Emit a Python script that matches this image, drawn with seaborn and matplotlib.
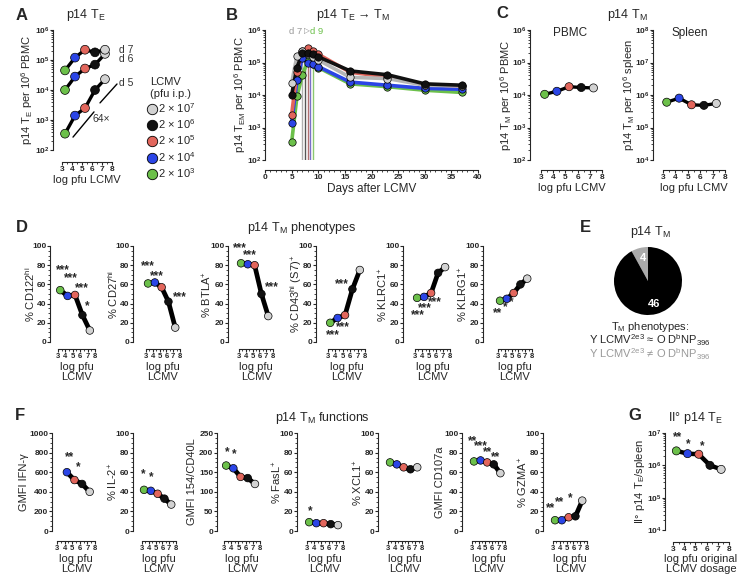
import numpy as np
import pandas as pd
import matplotlib
matplotlib.use('Agg')
import matplotlib.pyplot as plt
import seaborn as sns
from matplotlib.ticker import FixedLocator, MultipleLocator, FuncFormatter, LogLocator, NullFormatter
from matplotlib.lines import Line2D

sns.set_style('ticks')
plt.rcParams['font.family'] = ['Liberation Sans', 'DejaVu Sans']
plt.rcParams['mathtext.fontset'] = 'custom'
plt.rcParams['mathtext.rm'] = 'Liberation Sans'
plt.rcParams['mathtext.it'] = 'Liberation Sans:italic'
plt.rcParams['mathtext.bf'] = 'Liberation Sans:bold'
plt.rcParams['axes.linewidth'] = 0.8

# ---------------- data ----------------
doses = ['2e3', '2e4', '2e5', '2e6', '2e7']
dose_labels = ['2 × 10$^{3}$', '2 × 10$^{4}$', '2 × 10$^{5}$', '2 × 10$^{6}$', '2 × 10$^{7}$']
log_pfu = [3.3, 4.3, 5.3, 6.3, 7.3]
dose_colors = ['#6cc04a', '#2b45e6', '#e2665c', '#111111', '#d2d2d2']

# A: effector numbers per 1e6 PBMC
a_day5 = [350, 1400, 2500, 10000, 23000]
a_day6 = [10000, 28000, 52000, 70000, 160000]
a_day7 = [45000, 120000, 220000, 180000, 220000]

# B: kinetics
b_days = [5, 6, 7, 8, 9, 10, 16, 23, 30, 37]
b_2e3 = [350, 9000, 40000, 110000, 90000, 70000, 22000, 18000, 14000, 12000]
b_2e4 = [1400, 28000, 140000, 100000, 90000, 75000, 25000, 20000, 16000, 15000]
b_2e5 = [2500, 52000, 230000, 280000, 230000, 180000, 50000, 36000, 21000, 19000]
b_2e6 = [10000, 70000, 190000, 200000, 180000, 150000, 55000, 42000, 22000, 20000]
b_2e7 = [23000, 160000, 220000, 180000, 150000, 120000, 35000, 32000, 20000, 19000]
b_peak_day = [9.0, 8.5, 8.0, 7.5, 7.0]

# C: memory numbers
c_pbmc = [10500, 13000, 18000, 17000, 16500]
c_spleen = [600000, 800000, 500000, 480000, 550000]

# D: phenotypes (%)
d_cd122 = [54, 48, 49, 28, 12]
d_cd27 = [61, 62, 57, 42, 15]
d_btla = [82, 81, 80, 50, 27]
d_cd43 = [20, 25, 28, 55, 75]
d_klrc1 = [46, 47, 51, 72, 78]
d_klrg1 = [43, 45, 51, 60, 66]

# E: pie
e_counts = [4, 46]
e_labels = ['≠', '≈']

# F: functions
f_ifng = [np.nan, 600, 520, 480, 400]
f_il2 = [42, 41, 38, 33, 27]
f_cd40l = [167, 160, 138, 135, 120]
f_fasl = [9, 8, 8, 7, 6]
f_xcl1 = [70, 68, 65, 63, 65]
f_cd107a = [71, 72, 70, 68, 59]
f_gzma = [11, 11, 14, 15, 31]

# G: secondary effectors per spleen
g_secondary = [2.8e6, 2.3e6, 2.2e6, 1.0e6, 7.5e5]

# ---------------- layout helpers ----------------
W, H = 745, 586
fig = plt.figure(figsize=(W / 100, H / 100), dpi=100)
palette = dict(zip(doses, dose_colors))
PT = 0.72  # points per pixel
YLAB_SIZE = 8


def ftext(x, y, s, **kw):
    kw.setdefault('ha', 'center')
    kw.setdefault('va', 'center')
    return fig.text(x / W, 1 - y / H, s, **kw)


def log_fmt(v, pos):
    return r'$\mathbf{10^{%d}}$' % int(round(np.log10(v)))


def style_axes(ax, ybot_px, xaxis_y, left_px, spine_x):
    for s in ['top', 'right']:
        ax.spines[s].set_visible(False)
    ax.spines['left'].set_position(('outward', max(left_px - spine_x, 0) * PT))
    ax.spines['bottom'].set_position(('outward', (xaxis_y - ybot_px) * PT))
    ax.tick_params(axis='both', which='major', length=2.0, width=0.8, labelsize=6, pad=0.6)
    ax.tick_params(axis='both', which='minor', length=1.2, width=0.6)


def place_ylabel(ax, text, spine_x, off, left, width, size=YLAB_SIZE):
    ax.set_ylabel(text, fontsize=size)
    ax.yaxis.set_label_coords((spine_x - off - left) / width, 0.5)
    ax.yaxis.label.set_verticalalignment('center')


def dose_axes(spine_x, t3, t8, ytop, ybot, xaxis_y, ylim, log=False, yticks=None, yminor=None, xlim=(2.7, 8.3)):
    u = (t8 - t3) / 5
    left = t3 - (3 - xlim[0]) * u
    right = t8 + (xlim[1] - 8) * u
    ax = fig.add_axes([left / W, 1 - ybot / H, (right - left) / W, (ybot - ytop) / H])
    ax.set_xlim(*xlim)
    if log:
        ax.set_yscale('log')
    ax.set_ylim(*ylim)
    ax.xaxis.set_major_locator(FixedLocator([3, 4, 5, 6, 7, 8]))
    ax.xaxis.set_minor_locator(MultipleLocator(0.5))
    if log:
        ax.yaxis.set_major_locator(LogLocator(base=10, numticks=12))
        ax.yaxis.set_major_formatter(FuncFormatter(log_fmt))
        ax.yaxis.set_minor_locator(LogLocator(base=10, subs=np.arange(2, 10), numticks=12))
        ax.yaxis.set_minor_formatter(NullFormatter())
    else:
        ax.yaxis.set_major_locator(FixedLocator(yticks))
        ax.yaxis.set_minor_locator(MultipleLocator(yminor))
    style_axes(ax, ybot, xaxis_y, left, spine_x)
    ax.spines['bottom'].set_bounds(3, 8)
    ax._px = (left, right - left, spine_x)
    return ax


def ylab(ax, text, off, size=YLAB_SIZE):
    left, width, spine_x = ax._px
    place_ylabel(ax, text, spine_x, off, left, width, size)


def plot_dose(ax, values, lw=3.4, s=30):
    df = pd.DataFrame({'log_pfu': log_pfu, 'value': values, 'dose': doses}).dropna()
    sns.lineplot(data=df, x='log_pfu', y='value', color='black', lw=lw, ax=ax,
                 estimator=None, sort=True, zorder=2)
    sns.scatterplot(data=df, x='log_pfu', y='value', hue='dose', palette=palette, s=s,
                    edgecolor='black', linewidth=0.5, legend=False, ax=ax, zorder=3, clip_on=False)
    ax.set_xlabel('')
    ax.set_ylabel('')


def stars(ax, items):
    for x, y, t in items:
        ax.text(x, y, t, ha='center', va='center', fontsize=8.5, fontweight='bold', clip_on=False)


# ---------------- Panel A ----------------
axA = dose_axes(53, 62, 112, 30, 150, 162, (1e2, 1e6), log=True)
for vals in [a_day5, a_day6, a_day7]:
    plot_dose(axA, vals, lw=2.4, s=40)
axA.set_xlabel('log pfu LCMV', fontsize=8, labelpad=2)
ylab(axA, 'p14 T$_{\\mathrm{E}}$ per 10$^{6}$ PBMC', 26)
axA.plot([4.1, 6.2], [10 ** 2.43, 10 ** 3.27], color='black', lw=1.0, clip_on=False)
axA.plot([6.8, 8.5], [10 ** 3.57, 10 ** 4.2], color='black', lw=1.0, clip_on=False)
axA.text(6.9, 10 ** 3.05, '64×', fontsize=7.5, color='#333333', ha='center', va='center')
ftext(119, 50, 'd 7', fontsize=7.5, color='#333333', ha='left')
ftext(119, 59, 'd 6', fontsize=7.5, color='#333333', ha='left')
ftext(119, 83, 'd 5', fontsize=7.5, color='#333333', ha='left')
ftext(22, 15, 'A', fontsize=12, fontweight='bold')
ftext(86, 15, 'p14 T$_{\\mathrm{E}}$', fontsize=9)

handles = [Line2D([], [], marker='o', ls='', markerfacecolor=c, markeredgecolor='black',
                  markeredgewidth=0.6, markersize=7.5) for c in dose_colors[::-1]]
leg = fig.legend(handles, dose_labels[::-1], title='LCMV\n(pfu i.p.)', frameon=False,
                 loc='upper left', bbox_to_anchor=(146 / W, 1 - 77 / H), fontsize=8,
                 title_fontsize=8, labelspacing=0.22, handletextpad=0.05, handlelength=1.0,
                 borderpad=0, borderaxespad=0)

# ---------------- Panel B ----------------
b_left, b_right, b_top, b_bot = 265, 478, 30, 160
axB = fig.add_axes([b_left / W, 1 - b_bot / H, (b_right - b_left) / W, (b_bot - b_top) / H])
axB.set_yscale('log')
axB.set_ylim(1e2, 1e6)
axB.set_xlim(0, 40)
series_B = {'2e3': b_2e3, '2e4': b_2e4, '2e5': b_2e5, '2e6': b_2e6, '2e7': b_2e7}
vline_colors = {'2e3': '#8cc870', '2e4': '#7a70c8', '2e5': '#b07070', '2e6': '#555555', '2e7': '#b0b0b0'}
for d, pk in zip(doses, b_peak_day):
    axB.vlines(pk, 1e2, max(series_B[d]), color=vline_colors[d], lw=1.0, zorder=1)
for d in ['2e3', '2e4', '2e5', '2e7', '2e6']:
    dfb = pd.DataFrame({'day': b_days, 'value': series_B[d]})
    sns.lineplot(data=dfb, x='day', y='value', color=palette[d] if d != '2e7' else '#b5b5b5',
                 lw=2.6, ax=axB, estimator=None, zorder=2)
    sns.scatterplot(data=dfb, x='day', y='value', color=palette[d], s=28, edgecolor='black',
                    linewidth=0.5, ax=axB, zorder=3, clip_on=False)
axB.xaxis.set_major_locator(MultipleLocator(5))
axB.xaxis.set_minor_locator(MultipleLocator(1))
axB.yaxis.set_major_locator(LogLocator(base=10, numticks=12))
axB.yaxis.set_major_formatter(FuncFormatter(log_fmt))
axB.yaxis.set_minor_locator(LogLocator(base=10, subs=np.arange(2, 10), numticks=12))
axB.yaxis.set_minor_formatter(NullFormatter())
style_axes(axB, b_bot, 170, b_left, b_left)
axB.set_xlabel('Days after LCMV', fontsize=8.5, labelpad=2)
place_ylabel(axB, 'p14 T$_{\\mathrm{EM}}$ per 10$^{6}$ PBMC', b_left, 25, b_left, b_right - b_left)
ftext(232, 15, 'B', fontsize=12, fontweight='bold')
ftext(353, 15, 'p14 T$_{\\mathrm{E}}$ → T$_{\\mathrm{M}}$', fontsize=9)
ftext(289, 32, 'd 7', fontsize=6.8, color='#999999', ha='left')
ftext(303.5, 32, '▷', fontsize=5.5, color='#888888', ha='left')
ftext(310.5, 32, 'd 9', fontsize=6.8, color='#6cc04a', ha='left')

# ---------------- Panel C ----------------
axC1 = dose_axes(530, 541, 602, 30, 160, 170, (1e2, 1e6), log=True)
plot_dose(axC1, c_pbmc, lw=2.4, s=34)
axC1.set_xlabel('log pfu LCMV', fontsize=8, labelpad=2)
ylab(axC1, 'p14 T$_{\\mathrm{M}}$ per 10$^{6}$ PBMC', 24)
axC2 = dose_axes(653, 663, 725, 30, 160, 170, (1e4, 1e8), log=True)
plot_dose(axC2, c_spleen, lw=2.4, s=34)
axC2.set_xlabel('log pfu LCMV', fontsize=8, labelpad=2)
ylab(axC2, 'p14 T$_{\\mathrm{M}}$ per 10$^{6}$ spleen', 24)
ftext(502, 13, 'C', fontsize=12, fontweight='bold')
ftext(627, 15, 'p14 T$_{\\mathrm{M}}$', fontsize=9)
ftext(570, 33, 'PBMC', fontsize=8.5)
ftext(690, 33, 'Spleen', fontsize=8.5)

# ---------------- Panel D ----------------
D_specs = [
    (50, 58, 95, d_cd122, '% CD122$^{\\mathrm{hi}}$', 20,
     [(3.7, 75, '***'), (4.76, 66, '***'), (6.2, 56, '***'), (6.9, 37, '*')]),
    (133, 146, 180, d_cd27, '% CD27$^{\\mathrm{hi}}$', 20,
     [(3.3, 79, '***'), (4.6, 69, '***'), (8.0, 47, '***')]),
    (228, 239, 273, d_btla, '% BTLA$^{+}$', 21,
     [(3.15, 98, '***'), (4.6, 90, '***'), (7.8, 57, '***')]),
    (316, 328, 365, d_cd43, '% CD43$^{\\mathrm{hi}}$ (S7)$^{+}$', 20,
     [(4.9, 60, '***'), (5.0, 15, '***'), (3.7, 7, '***')]),
    (403, 415, 450, d_klrc1, '% KLRC1$^{+}$', 20,
     [(5.9, 42, '***'), (4.4, 35, '***'), (3.4, 28, '***')]),
    (483, 498, 532, d_klrg1, '% KLRG1$^{+}$', 20,
     [(5.0, 42, '*'), (4.0, 36, '*'), (2.9, 30, '**')]),
]
for sx, t3, t8, vals, ytxt, off, st in D_specs:
    ax = dose_axes(sx, t3, t8, 246, 342, 349, (0, 100), yticks=[0, 20, 40, 60, 80, 100], yminor=5)
    plot_dose(ax, vals)
    ylab(ax, ytxt, off)
    ax.set_xlabel('log pfu\nLCMV', fontsize=8, labelpad=1, linespacing=1.05)
    ax.tick_params(axis='x', labelsize=5.5, pad=1)
    stars(ax, st)
ftext(22, 227, 'D', fontsize=12, fontweight='bold')
ftext(302, 228, 'p14 T$_{\\mathrm{M}}$ phenotypes', fontsize=9)

# ---------------- Panel E ----------------
cx, cy, r = 648, 281, 34
axE = fig.add_axes([(cx - r) / W, 1 - (cy + r) / H, 2 * r / W, 2 * r / H])
axE.pie(e_counts, colors=['#aaaaaa', '#000000'], startangle=90, counterclock=True,
        wedgeprops=dict(linewidth=0))
axE.set_xlim(-1, 1)
axE.set_ylim(-1, 1)
axE.set_aspect('equal')
ftext(643, 258, str(e_counts[0]), fontsize=8, fontweight='bold', color='white')
ftext(654, 304, str(e_counts[1]), fontsize=8, fontweight='bold', color='white')
ftext(585, 227, 'E', fontsize=12, fontweight='bold')
ftext(650, 232, 'p14 T$_{\\mathrm{M}}$', fontsize=9)
ftext(650, 327, 'T$_{\\mathrm{M}}$ phenotypes:', fontsize=8)
ftext(650, 340, 'Y LCMV$^{\\mathrm{2e3}}$ ' + e_labels[1] + ' O D$^{\\mathrm{b}}$NP$_{\\mathrm{396}}$', fontsize=8)
ftext(650, 354, 'Y LCMV$^{\\mathrm{2e3}}$ ' + e_labels[0] + ' O D$^{\\mathrm{b}}$NP$_{\\mathrm{396}}$', fontsize=8,
      color='#999999')

# ---------------- Panel F ----------------
F_specs = [
    (52, 57, 95, f_ifng, 'GMFI IFN-γ', 28, (0, 1000), [0, 200, 400, 600, 800, 1000], 50,
     [(4.7, 750, '**'), (5.8, 652, '*')]),
    (133, 142, 176, f_il2, '% IL-2$^{+}$', 20, (0, 100), [0, 20, 40, 60, 80, 100], 5,
     [(3.2, 58, '*'), (4.3, 55, '*')]),
    (217, 224, 260, f_cd40l, 'GMFI 154/CD40L', 25, (0, 250), [0, 50, 100, 150, 200, 250], 12.5,
     [(3.4, 200, '*'), (4.4, 195, '*')]),
    (297, 307, 343, f_fasl, '% FasL$^{+}$', 20, (0, 100), [0, 20, 40, 60, 80, 100], 5,
     [(3.4, 20, '*')]),
    (378, 388, 422, f_xcl1, '% XCL1$^{+}$', 20, (0, 100), [0, 20, 40, 60, 80, 100], 5, []),
    (462, 472, 505, f_cd107a, 'GMFI CD107a', 22, (0, 100), [0, 20, 40, 60, 80, 100], 5,
     [(3.1, 92, '**'), (4.4, 86.5, '***'), (5.4, 80.5, '**'), (6.6, 75, '**')]),
    (543, 553, 587, f_gzma, '% GZMA$^{+}$', 20, (0, 100), [0, 20, 40, 60, 80, 100], 5,
     [(2.6, 23, '**'), (3.9, 29, '**'), (5.6, 34, '*')]),
]
for sx, t3, t8, vals, ytxt, off, ylim, yt, ym, st in F_specs:
    ax = dose_axes(sx, t3, t8, 433, 531, 541, ylim, yticks=yt, yminor=ym)
    plot_dose(ax, vals)
    ylab(ax, ytxt, off)
    ax.set_xlabel('log pfu\nLCMV', fontsize=8, labelpad=1, linespacing=1.05)
    ax.tick_params(axis='x', labelsize=5.5, pad=1)
    stars(ax, st)
ftext(20, 415, 'F', fontsize=12, fontweight='bold')
ftext(322, 418, 'p14 T$_{\\mathrm{M}}$ functions', fontsize=9)

# ---------------- Panel G ----------------
axG = dose_axes(665, 673, 729, 433, 530, 542, (1e4, 1e7), log=True)
plot_dose(axG, g_secondary, lw=3.2, s=34)
ylab(axG, 'II° p14 T$_{\\mathrm{E}}$/spleen', 25)
axG.set_xlabel('log pfu original\nLCMV dosage', fontsize=8, labelpad=1, linespacing=1.05)
stars(axG, [(3.4, 7.4e6, '**'), (4.4, 4.5e6, '*'), (5.6, 4.0e6, '*')])
ftext(635, 416, 'G', fontsize=12, fontweight='bold')
ftext(695, 418, 'II° p14 T$_{\\mathrm{E}}$', fontsize=9)

# bold tick labels everywhere
fig.canvas.draw()
for ax in fig.axes:
    for lab in ax.get_xticklabels() + ax.get_yticklabels():
        lab.set_fontweight('bold')

fig.savefig('out.png', dpi=100)
